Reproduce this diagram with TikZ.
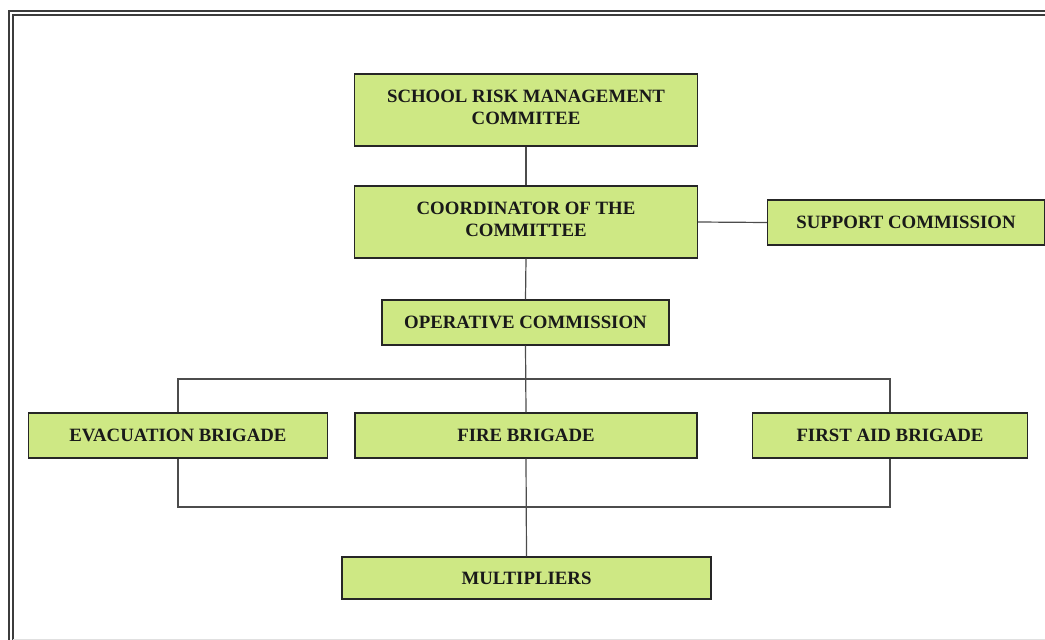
\documentclass[tikz,border=0pt]{standalone}
\usepackage{fontspec}
\setmainfont{Liberation Serif}
\definecolor{boxgreen}{RGB}{206,232,132}
\definecolor{framegray}{RGB}{60,60,60}
\begin{document}
\begin{tikzpicture}[x=1pt,y=-1pt,
  box/.style={draw=black!85, line width=1.1pt, fill=boxgreen, rectangle, inner sep=0pt,
    font=\bfseries\fontsize{18.8}{22}\selectfont, align=center, text=black!90},
  twoline/.style={box, minimum width=343pt, minimum height=72pt, text depth=6pt},
  link/.style={draw=black!70, line width=1.2pt}]
\useasboundingbox (0,0) rectangle (1045,640);
% frame
\draw[framegray, line width=2pt] (8.7,641) -- (8.7,11) -- (1046,11);
\draw[framegray, line width=1.5pt] (13.2,641) -- (13.2,15.2) -- (1046,15.2);
\draw[black!12, line width=0.8pt] (13.2,639) -- (1046,639);
% nodes
\node[twoline] (srmc) at (526,110) {SCHOOL RISK MANAGEMENT\\COMMITEE};
\node[twoline] (coord) at (526,222) {COORDINATOR OF THE\\COMMITTEE};
\node[box, minimum width=277pt, minimum height=45pt] (support) at (906,222.5) {SUPPORT COMMISSION};
\node[box, minimum width=287pt, minimum height=45pt] (oper) at (525.5,322.5) {OPERATIVE COMMISSION};
\coordinate (topbar) at (526,379);
\coordinate (botbar) at (526,507);
\node[box, minimum width=299pt, minimum height=45pt] (evac) at (178,435.5) {EVACUATION BRIGADE};
\node[box, minimum width=342pt, minimum height=45pt] (fire) at (526,435.5) {FIRE BRIGADE};
\node[box, minimum width=275pt, minimum height=45pt] (first) at (890,435.5) {FIRST AID BRIGADE};
\node[box, minimum width=369pt, minimum height=42pt] (mult) at (526.5,578) {MULTIPLIERS};
% connectors
\draw[link] (srmc.south) -- (coord.north);
\draw[link] (coord.south) -- (oper.north);
\draw[link] (coord.east) -- (support.west);
\draw[link] (oper.south) -- (fire.north);
\draw[link] (fire.south) -- (mult.north);
\draw[link] (evac.north) -- (evac.north |- topbar) -- (first.north |- topbar) -- (first.north);
\draw[link] (evac.south) -- (evac.south |- botbar) -- (first.south |- botbar) -- (first.south);
\end{tikzpicture}
\end{document}
